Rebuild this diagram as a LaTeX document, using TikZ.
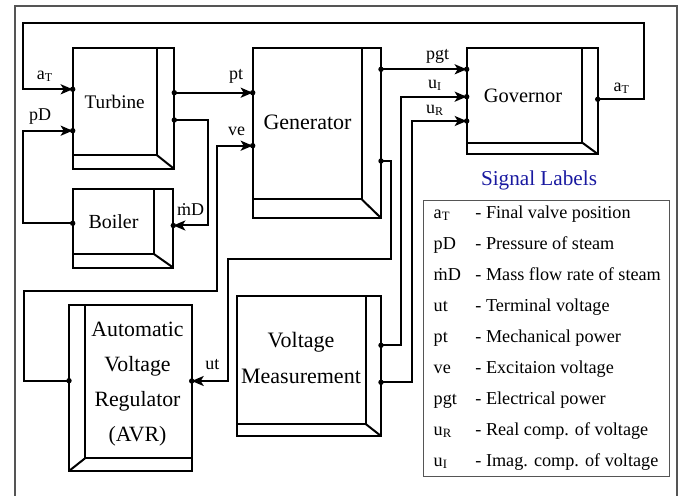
\documentclass[tikz,border=0pt]{standalone}
\usepackage{fontspec}
\setmainfont{Liberation Serif}
\usetikzlibrary{arrows.meta}
\definecolor{framegray}{RGB}{85,85,85}
\definecolor{titleblue}{RGB}{25,25,160}

% shaded depth on the right and bottom of a block
\newcommand\depthright[3]{%
  \draw[wire] ([xshift=-#2]#1.north east) -- ([xshift=-#2,yshift=#3]#1.south east)
    -- ([yshift=#3]#1.south west);
  \draw[wire] ([xshift=-#2,yshift=#3]#1.south east) -- (#1.south east);}
% shaded depth on the left and bottom of a block
\newcommand\depthleft[3]{%
  \draw[wire] ([xshift=#2]#1.north west) -- ([xshift=#2,yshift=#3]#1.south west)
    -- ([yshift=#3]#1.south east);
  \draw[wire] ([xshift=#2,yshift=#3]#1.south west) -- (#1.south west);}
\newcommand\portdot[1]{\fill (#1) circle[radius=1.35pt];}

\begin{document}
\begin{tikzpicture}[x=0.5pt,y=-0.5pt,
  blk/.style={draw, line width=1pt, rectangle, inner sep=0pt, outer sep=0pt},
  wire/.style={line width=1pt},
  sig/.style={wire, -{Stealth[length=6pt,width=5pt,inset=1.5pt]}},
  lbl/.style={inner sep=0pt, font=\fontsize{9}{11}\selectfont},
  leg/.style={inner sep=0pt, anchor=base west, font=\fontsize{9.1}{11}\selectfont},
  line join=miter]
\useasboundingbox (0,0) rectangle (680,496);

% outer frame
\draw[framegray, line width=0.8pt] (15,510) -- (15,6) -- (676.7,6) -- (676.7,510);

% blocks
\node[blk, minimum width=50.8pt, minimum height=60.35pt] (turb) at (123.5,108.65) {};
\node[blk, minimum width=50.3pt, minimum height=39.2pt] (boil) at (123,228.5) {};
\node[blk, minimum width=64.15pt, minimum height=84.85pt] (gen) at (316.85,133.15) {};
\node[blk, minimum width=65.5pt, minimum height=52.85pt] (gov) at (532.2,101.15) {};
\node[blk, minimum width=72.15pt, minimum height=70pt] (vm) at (308.85,366) {};
\node[blk, minimum width=61.35pt, minimum height=83pt] (avr) at (130.35,388) {};
\depthright{turb}{8.8pt}{7pt}
\depthright{boil}{9.5pt}{6.7pt}
\depthright{gen}{9.65pt}{9.35pt}
\depthright{gov}{7.7pt}{5.65pt}
\depthright{vm}{7.65pt}{6pt}
\depthleft{avr}{8pt}{6.35pt}

% block titles
\node[font=\fontsize{9.6}{12}\selectfont] (turbT) at (114.7,101.7) {Turbine};
\node[font=\fontsize{10}{12}\selectfont] (boilT) at (113.5,221.8) {Boiler};
\node[font=\fontsize{11}{13}\selectfont] (genT) at (307.5,122.5) {Generator};
\node[font=\fontsize{10.2}{12}\selectfont] (govT) at (523,95.5) {Governor};
\node[font=\fontsize{11}{18}\selectfont, align=center] (vmT) at (301,358) {Voltage\\Measurement};
\node[font=\fontsize{10.9}{17.5}\selectfont, align=center] (avrT) at (137.5,384) {Automatic\\Voltage\\Regulator\\(AVR)};

% ports
\coordinate (turb-aT) at (turb.west |- 0,89.3);
\coordinate (turb-pD) at (turb.west |- 0,130.7);
\coordinate (turb-pt) at (turb.east |- 0,92.7);
\coordinate (turb-mD) at (turb.east |- 0,120);
\coordinate (boil-pD) at (boil.west |- 0,223.3);
\coordinate (boil-mD) at (boil.east |- 0,225.5);
\coordinate (gen-pt) at (gen.west |- 0,92.7);
\coordinate (gen-ve) at (gen.west |- 0,145.7);
\coordinate (gen-pgt) at (gen.east |- 0,69.3);
\coordinate (gen-ut) at (gen.east |- 0,161);
\coordinate (gov-pgt) at (gov.west |- 0,69.3);
\coordinate (gov-uI) at (gov.west |- 0,96.7);
\coordinate (gov-uR) at (gov.west |- 0,121);
\coordinate (gov-aT) at (gov.east |- 0,99.3);
\coordinate (vm-uI) at (vm.east |- 0,345.3);
\coordinate (vm-uR) at (vm.east |- 0,382.3);
\coordinate (avr-ve) at (avr.west |- 0,380.7);
\coordinate (avr-ut) at (avr.east |- 0,381);

% signal lines
\draw[sig] (gov-aT) -- (644,99.3) |- (22.7,22.7) |- (turb-aT);
\draw[sig] (boil-pD) -| (22.7,130.7) -- (turb-pD);
\draw[sig] (turb-pt) -- (gen-pt);
\draw[sig] (turb-mD) -| (208.3,225.5) -- (boil-mD);
\draw[sig] (avr-ve) -| (24,291.3) -| (217.3,145.7) -- (gen-ve);
\draw[sig] (gen-pgt) -- (gov-pgt);
\draw[sig] (gen-ut) -| (390.7,259.5) -| (227.7,381) -- (avr-ut);
\draw[sig] (vm-uI) -| (401.3,96.7) -- (gov-uI);
\draw[sig] (vm-uR) -| (412.3,121) -- (gov-uR);
\foreach \p in {turb-aT,turb-pD,turb-pt,turb-mD,boil-pD,boil-mD,gen-pt,gen-ve,
  gen-pgt,gen-ut,gov-pgt,gov-uI,gov-uR,gov-aT,vm-uI,vm-uR,avr-ve,avr-ut}
  {\portdot{\p}}

% signal names
\node[lbl] (l-aT) at (45,76.7) {a\textsubscript{T}};
\node[lbl] (l-pD) at (40,116.7) {pD};
\node[lbl] (l-pt) at (236,76) {pt};
\node[lbl] (l-ve) at (236.7,131.7) {ve};
\node[lbl] (l-mD) at (190.7,210) {\.{m}D};
\node[lbl] (l-pgt) at (437.7,56) {pgt};
\node[lbl] (l-uI) at (435,85) {u\textsubscript{I}};
\node[lbl] (l-uR) at (435,110) {u\textsubscript{R}};
\node[lbl] (l-aT2) at (621.7,88.3) {a\textsubscript{T}};
\node[lbl] (l-ut) at (212.3,365) {ut};

% legend
\node[font=\fontsize{10.6}{12}\selectfont, text=titleblue, anchor=base, inner sep=0pt]
  (legT) at (539,185.5) {Signal Labels};
\node[draw=framegray, line width=0.8pt, minimum width=123pt, minimum height=138pt,
  inner sep=0pt] (legbox) at (546.3,338.7) {};
\foreach \i/\s/\t in {0/a\textsubscript{T}/Final valve position,
  1/pD/Pressure of steam,
  2/\.{m}D/Mass flow rate of steam,
  3/ut/Terminal voltage,
  4/pt/Mechanical power,
  5/ve/Excitaion voltage,
  6/pgt/Electrical power,
  7/u\textsubscript{R}/Real comp. of voltage,
  8/u\textsubscript{I}/Imag. comp. of voltage}
{
  \node[leg] (sym-\i) at (433.3,218.3+31*\i) {\s};
  \node[leg] (txt-\i) at (475,218.3+31*\i) {- \t};
}
\end{tikzpicture}
\end{document}
